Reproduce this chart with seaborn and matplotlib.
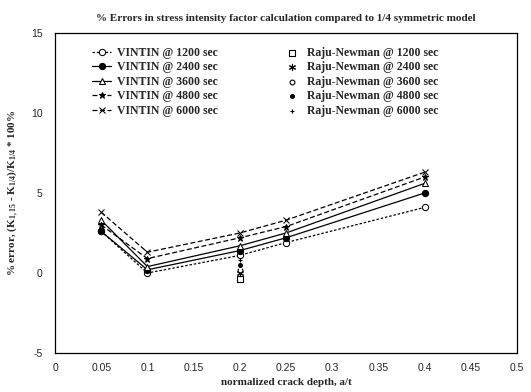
import pandas as pd
import seaborn as sns
import matplotlib
matplotlib.use('Agg')
import matplotlib.pyplot as plt

# crack depth ratios, a/t
depth = [0.05, 0.1, 0.2, 0.25, 0.4]
times = [1200, 2400, 3600, 4800, 6000]

# VINTIN % error per time step
vintin_1200 = [2.6, 0.0, 1.1, 1.9, 4.1]
vintin_2400 = [2.6, 0.2, 1.4, 2.2, 5.0]
vintin_3600 = [3.3, 0.4, 1.7, 2.5, 5.6]
vintin_4800 = [3.0, 0.9, 2.2, 2.9, 6.0]
vintin_6000 = [3.8, 1.3, 2.5, 3.3, 6.3]

# Raju-Newman % error, only at a/t = 0.2
rn_depth = [0.2]
rn_1200 = [-0.4]
rn_2400 = [0.0]
rn_3600 = [0.2]
rn_4800 = [0.5]
rn_6000 = [0.8]

x_ticks = [0, 0.05, 0.1, 0.15, 0.2, 0.25, 0.3, 0.35, 0.4, 0.45, 0.5]
x_ticklabels = ['0', '0.05', '0.1', '0.15', '0.2', '0.25', '0.3', '0.35', '0.4', '0.45', '0.5']
y_ticks = [-5, 0, 5, 10, 15]

sns.set_style('white')
plt.rcParams['font.family'] = ['Liberation Serif', 'DejaVu Serif']
plt.rcParams['mathtext.fontset'] = 'custom'
plt.rcParams['mathtext.rm'] = 'Liberation Serif:bold'
plt.rcParams['mathtext.it'] = 'Liberation Serif:bold'
plt.rcParams['mathtext.default'] = 'rm'

fig = plt.figure(figsize=(5.31, 3.92), dpi=100)
ax = fig.add_axes([0.1036, 0.0995, 0.870, 0.8163])

vintin = [vintin_1200, vintin_2400, vintin_3600, vintin_4800, vintin_6000]
v_styles = [
  dict(marker='o', mfc='white', linestyle=(0, (2, 1.5))),
  dict(marker='o', mfc='black', linestyle='-'),
  dict(marker='^', mfc='white', linestyle='-'),
  dict(marker='*', mfc='black', linestyle=(0, (4, 2))),
  dict(marker='x', mfc='black', linestyle=(0, (4, 2))),
]
for t, vals, st in zip(times, vintin, v_styles):
  df = pd.DataFrame({'depth': depth, 'err': vals})
  sns.lineplot(
    data=df, x='depth', y='err', ax=ax,
    color='black', linewidth=0.9, markersize=4.5,
    mec='black', label='VINTIN @ %d sec' % t, **st
  )

rn = [rn_1200, rn_2400, rn_3600, rn_4800, rn_6000]
rn_styles = [
  dict(marker='s', facecolor='white', edgecolor='black', s=20),
  dict(marker=(6, 2, 0), color='black', s=20),
  dict(marker='o', facecolor='white', edgecolor='black', s=12),
  dict(marker='o', color='black', s=20),
  dict(marker='+', color='black', s=12),
]
for t, vals, st in zip(times, rn, rn_styles):
  df = pd.DataFrame({'depth': rn_depth, 'err': vals})
  sns.scatterplot(
    data=df, x='depth', y='err', ax=ax, linewidth=0.8,
    label='Raju-Newman @ %d sec' % t, **st
  )

ax.set_xlim(0, 0.5)
ax.set_ylim(-5, 15)
ax.set_xticks(x_ticks)
ax.set_xticklabels(x_ticklabels, family='Liberation Sans', fontsize=7.5)
ax.set_yticks(y_ticks)
ax.set_yticklabels([str(v) for v in y_ticks], family='Liberation Sans', fontsize=7.5)
ax.tick_params(axis='x', length=0, pad=7)
ax.tick_params(axis='y', length=0, pad=9)
for s in ax.spines.values():
  s.set_color('black')
  s.set_linewidth(0.9)

ax.set_title('% Errors in stress intensity factor calculation compared to 1/4 symmetric model',
             fontsize=8, fontweight='bold', pad=9)
ax.set_xlabel('normalized crack depth, a/t', fontsize=8, fontweight='bold', labelpad=4)
ax.set_ylabel('% error, (K$_{1,15}$ - K$_{1/4}$)/K$_{1/4}$ * 100%', fontsize=8,
              fontweight='bold', labelpad=7)

ax.legend(loc='upper left', bbox_to_anchor=(0.07, 0.972), ncol=2, frameon=False,
          prop={'weight': 'bold', 'size': 8.5}, handlelength=1.6, handletextpad=0.5,
          columnspacing=5.5, labelspacing=0.22, borderaxespad=0)

fig.savefig('out.png', dpi=100)
